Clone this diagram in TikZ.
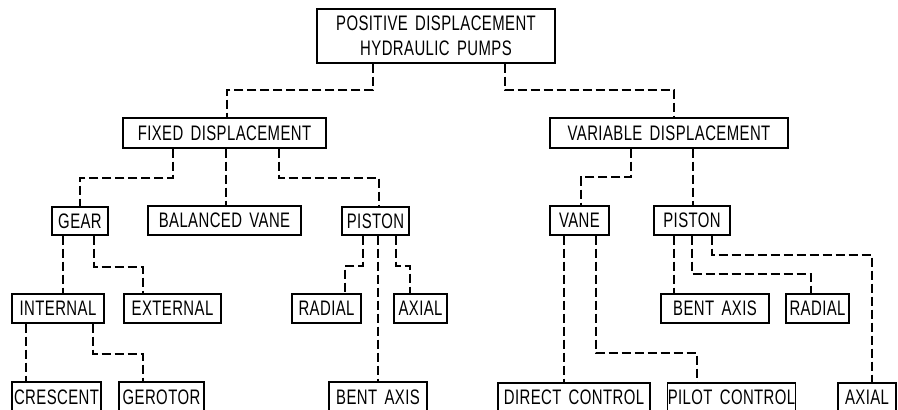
\documentclass[tikz,border=0pt]{standalone}
\usepackage{fontspec}
\newfontfamily\lett{Liberation Sans}[FakeStretch=0.71, LetterSpace=2, WordSpace=1.6]
\tikzset{
  box/.style={draw, line width=1.2pt, inner sep=0pt, align=center,
    font=\lett\fontsize{21}{25}\selectfont},
  conn/.style={line width=1.1pt, dash pattern=on 9pt off 4pt}
}
\newcommand\mybox[6]{\node[box, minimum width={#3pt-#2pt}, minimum height={#5pt-#4pt}] (#1) at ({(#2+#3)/2},{(#4+#5)/2}) {#6};}
\begin{document}
\begin{tikzpicture}[x=1pt,y=-1pt]
\useasboundingbox (0,0) rectangle (898,410);
% boxes
\mybox{root}{317}{555}{9}{63}{POSITIVE DISPLACEMENT\\HYDRAULIC PUMPS}
\mybox{fixed}{123}{326}{118}{148}{FIXED DISPLACEMENT}
\mybox{var}{550}{788}{118}{148}{VARIABLE DISPLACEMENT}
\mybox{gear}{52}{108}{207}{235}{GEAR}
\mybox{bvane}{148}{301}{206}{235}{BALANCED VANE}
\mybox{pistonF}{342}{409}{207}{235}{PISTON}
\mybox{vane}{550}{609}{206}{235}{VANE}
\mybox{pistonV}{654}{730}{206}{235}{PISTON}
\mybox{internal}{12}{104}{294}{323}{INTERNAL}
\mybox{external}{124}{221}{294}{323}{EXTERNAL}
\mybox{radialF}{292}{361}{294}{323}{RADIAL}
\mybox{axialF}{394}{447}{294}{323}{AXIAL}
\mybox{bentV}{661}{769}{294}{323}{BENT AXIS}
\mybox{radialV}{786}{849}{294}{323}{RADIAL}
\mybox{crescent}{12}{101}{382}{412}{CRESCENT}
\mybox{gerotor}{119}{204}{382}{412}{GEROTOR}
\mybox{bentF}{329}{427}{382}{412}{BENT AXIS}
\mybox{direct}{498}{650}{383}{412}{DIRECT CONTROL}
\mybox{pilot}{668}{795}{383}{412}{PILOT CONTROL}
\mybox{axialV}{838}{896}{383}{412}{AXIAL}
% connectors
\draw[conn] (root.south -| 373,0) -- (373,90) -| (fixed.north -| 227,0);
\draw[conn] (root.south -| 505,0) -- (505,90) -| (var.north -| 674,0);
\draw[conn] (fixed.south -| 173,0) -- (173,178) -| (gear.north -| 80,0);
\draw[conn] (fixed.south -| 226,0) -- (bvane.north -| 226,0);
\draw[conn] (fixed.south -| 279,0) -- (279,178) -| (pistonF.north -| 379,0);
\draw[conn] (gear.south -| 63,0) -- (internal.north -| 63,0);
\draw[conn] (gear.south -| 94,0) -- (94,267) -| (external.north -| 143,0);
\draw[conn] (internal.south -| 26,0) -- (crescent.north -| 26,0);
\draw[conn] (internal.south -| 93,0) -- (93,354) -| (gerotor.north -| 143,0);
\draw[conn] (pistonF.south -| 363,0) -- (363,266) -| (radialF.north -| 345,0);
\draw[conn] (pistonF.south -| 378,0) -- (bentF.north -| 378,0);
\draw[conn] (pistonF.south -| 396,0) -- (396,266) -| (axialF.north -| 410,0);
\draw[conn] (var.south -| 631,0) -- (631,177) -| (vane.north -| 581,0);
\draw[conn] (var.south -| 693,0) -- (pistonV.north -| 693,0);
\draw[conn] (vane.south -| 564,0) -- (direct.north -| 564,0);
\draw[conn] (vane.south -| 596,0) -- (596,353) -| (pilot.north -| 697,0);
\draw[conn] (pistonV.south -| 674,0) -- (bentV.north -| 674,0);
\draw[conn] (pistonV.south -| 692,0) -- (692,274) -| (radialV.north -| 811,0);
\draw[conn] (pistonV.south -| 712,0) -- (712,255) -| (axialV.north -| 872,0);
\end{tikzpicture}
\end{document}
